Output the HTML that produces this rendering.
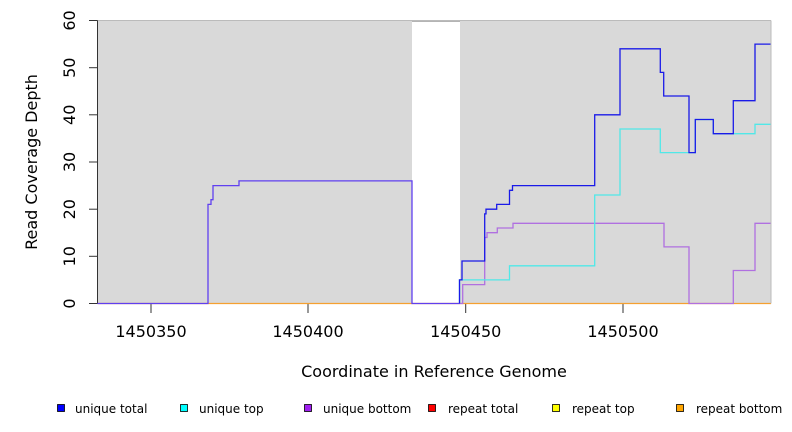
<!DOCTYPE html>
<html><head><meta charset="utf-8"><style>
body{margin:0;background:#fff;}
svg{display:block;font-family:"DejaVu Sans","Liberation Sans",sans-serif;}
</style></head><body>
<svg width="792" height="432" viewBox="0 0 792 432">
<rect x="97.5" y="20.5" width="314.5" height="283" fill="#d9d9d9"/>
<rect x="460" y="20.5" width="311" height="283" fill="#d9d9d9"/>
<line x1="412" y1="21" x2="460" y2="21" stroke="#888" stroke-width="1.2"/>
<line x1="97.5" y1="20.5" x2="771" y2="20.5" stroke="#bbb" stroke-width="1"/>
<!-- y axis -->
<g stroke="#333" stroke-width="1">
<line x1="97.5" y1="20.5" x2="97.5" y2="303.5"/>
<line x1="89" y1="303.5" x2="97.5" y2="303.5"/>
<line x1="89" y1="256.3" x2="97.5" y2="256.3"/>
<line x1="89" y1="209.2" x2="97.5" y2="209.2"/>
<line x1="89" y1="162" x2="97.5" y2="162"/>
<line x1="89" y1="114.8" x2="97.5" y2="114.8"/>
<line x1="89" y1="67.7" x2="97.5" y2="67.7"/>
<line x1="89" y1="20.5" x2="97.5" y2="20.5"/>
<line x1="151" y1="303.5" x2="151" y2="313"/>
<line x1="308" y1="303.5" x2="308" y2="313"/>
<line x1="465.7" y1="303.5" x2="465.7" y2="313"/>
<line x1="623" y1="303.5" x2="623" y2="313"/>
</g>
<g font-size="16" fill="#000" text-anchor="middle">
<text transform="translate(75,303.5) rotate(-90)">0</text>
<text transform="translate(75,256.3) rotate(-90)">10</text>
<text transform="translate(75,209.2) rotate(-90)">20</text>
<text transform="translate(75,162) rotate(-90)">30</text>
<text transform="translate(75,114.8) rotate(-90)">40</text>
<text transform="translate(75,67.7) rotate(-90)">50</text>
<text transform="translate(75,20.5) rotate(-90)">60</text>
<text x="151" y="337">1450350</text>
<text x="308" y="337">1450400</text>
<text x="465.7" y="337">1450450</text>
<text x="623" y="337">1450500</text>
<text x="434" y="377">Coordinate in Reference Genome</text>
<text transform="translate(37,162) rotate(-90)">Read Coverage Depth</text>
</g>
<line x1="97.5" y1="303.5" x2="771" y2="303.5" stroke="#f5a030" stroke-width="1.2"/>
<g fill="none" stroke-width="1.3">
<!-- left segment shared -->
<polyline stroke="#6040f0" points="97.5,303.5 208,303.5 208,204.4 211,204.4 211,199.7 213,199.7 213,185.6 239,185.6 239,180.9 412,180.9 412,303.5 459.5,303.5"/>
<!-- purple -->
<polyline stroke="#b070e0" points="459.5,303.5 462.7,303.5 462.7,284.6 484.7,284.6 484.7,237.5 487,237.5 487,232.7 497.3,232.7 497.3,228 513,228 513,223.3 664,223.3 664,246.9 689,246.9 689,303.5 733.3,303.5 733.3,270.5 755,270.5 755,223.3 771,223.3"/>
<!-- cyan -->
<polyline stroke="#50e8e8" points="459.5,303.5 459.5,279.9 509.5,279.9 509.5,265.8 594.7,265.8 594.7,195 620,195 620,129 660.3,129 660.3,152.6 695.3,152.6 695.3,119.5 713.3,119.5 713.3,133.7 755,133.7 755,124.3 771,124.3"/>
<!-- blue -->
<polyline stroke="#1a1ae8" points="459.5,303.5 459.5,279.9 462,279.9 462,261 484.7,261 484.7,213.9 486,213.9 486,209.2 496.7,209.2 496.7,204.4 509.5,204.4 509.5,190.3 512.5,190.3 512.5,185.6 594.7,185.6 594.7,114.8 620,114.8 620,48.8 660.3,48.8 660.3,72.4 663.7,72.4 663.7,96 689,96 689,152.6 695.3,152.6 695.3,119.5 713.3,119.5 713.3,133.7 733.3,133.7 733.3,100.7 755,100.7 755,44.1 771,44.1"/>
</g>
<line x1="771" y1="20.5" x2="771" y2="303.5" stroke="#bbb" stroke-width="1"/>
<!-- legend -->
<g stroke="#000" stroke-width="0.8">
<rect x="57.5" y="404.5" width="7" height="7" fill="#0000ff"/>
<rect x="180.5" y="404.5" width="7" height="7" fill="#00ffff"/>
<rect x="304.5" y="404.5" width="7" height="7" fill="#a020f0"/>
<rect x="428.5" y="404.5" width="7" height="7" fill="#ff0000"/>
<rect x="552.5" y="404.5" width="7" height="7" fill="#ffff00"/>
<rect x="676.5" y="404.5" width="7" height="7" fill="#ffa500"/>
</g>
<g font-size="12" fill="#000">
<text x="75" y="413">unique total</text>
<text x="199" y="413">unique top</text>
<text x="323" y="413">unique bottom</text>
<text x="448" y="413">repeat total</text>
<text x="572" y="413">repeat top</text>
<text x="696" y="413">repeat bottom</text>
</g>
</svg>
</body></html>
